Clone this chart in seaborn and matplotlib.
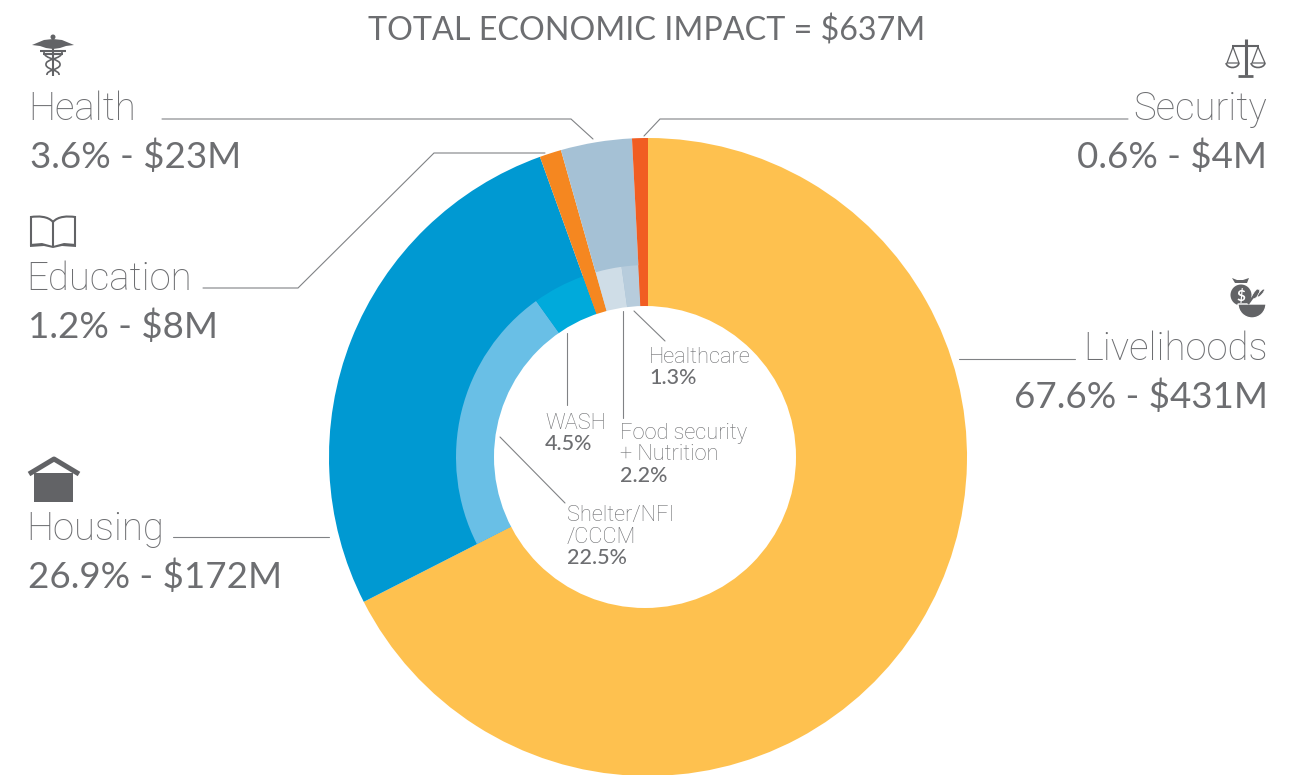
import matplotlib.pyplot as plt
import matplotlib.patches as mpatches
from matplotlib.path import Path
import seaborn as sns

sns.set_theme(style="white")
plt.rcParams['font.family'] = ['Lato', 'DejaVu Sans']

# outer ring: sectors, share of the arc (%)
sectors = ["Livelihoods", "Housing", "Education", "Health", "Security"]
sector_share = [67.5, 27.0, 1.1, 3.6, 0.8]
sector_colors = ["#fec14f", "#0099d2", "#f58720", "#a5c1d5", "#f15d22"]

# inner ring: same order, housing and health are split up
subsectors = ["Livelihoods", "Shelter/NFI/CCCM", "WASH", "Education",
              "Food security + Nutrition", "Healthcare", "Security"]
subsector_share = [67.5, 22.6, 4.4, 1.1, 2.2, 1.4, 0.8]
subsector_colors = ["#fec14f", "#69bfe6", "#00aadb", "#f58720",
                    "#cfdde7", "#b7ccdc", "#f15d22"]

title = "TOTAL ECONOMIC IMPACT = $637M"
GREY = "#6d6e71"
ICON = "#626366"
LINE = "#808285"

# big labels: name, amount, x, name baseline, alignment
big_names = ["Health", "Education", "Housing", "Security", "Livelihoods"]
big_amounts = ["3.6% - $23M", "1.2% - $8M", "26.9% - $172M", "0.6% - $4M", "67.6% - $431M"]
big_x = [30, 28, 28, 1267, 1268]
big_y = [120, 290, 540, 120, 360]
big_ha = ["left", "left", "left", "right", "right"]

# small labels inside the hole
small_names = ["Healthcare", "WASH", "Food security\n+ Nutrition", "Shelter/NFI\n/CCCM"]
small_pcts = ["1.3%", "4.5%", "2.2%", "22.5%"]
small_x = [649, 545, 620, 567]
small_y = [363, 429, 439, 521]

leaders = [
    [(162, 119), (571, 119), (593, 139)],
    [(203, 288), (298, 288), (434, 153), (545, 153)],
    [(1128, 119), (660, 119), (644, 136)],
    [(959, 359), (1075, 359)],
    [(173, 537), (329, 537)],
    [(567, 333), (567, 405)],
    [(623, 311), (623, 418)],
    [(634, 311), (665, 341)],
    [(500, 437), (565, 503)],
]

CX, CY = 648, 457
R_OUT, R_MID = 319, 192
HOLE_X, HOLE_R = 645, 151

fig = plt.figure(figsize=(13.03, 7.75), dpi=100)
ax = fig.add_axes([0, 0, 1, 1])

# y axis runs downward here, so counterclock=True reads clockwise on screen
# both rings go past the hole, the white circle on top cuts it out
ax.pie(sector_share, colors=sector_colors, startangle=-90, counterclock=True,
       radius=R_OUT, center=(CX, CY), wedgeprops=dict(width=R_OUT - 120, linewidth=0))
ax.pie(subsector_share, colors=subsector_colors, startangle=-90, counterclock=True,
       radius=R_MID, center=(CX, CY), wedgeprops=dict(width=R_MID - 120, linewidth=0))
ax.add_patch(mpatches.Circle((HOLE_X, CY), HOLE_R, fc='white', ec='none', zorder=1.5))

ax.set_xlim(0, 1303)
ax.set_ylim(775, 0)
ax.set_aspect('auto')
ax.axis('off')

for pts in leaders:
    ax.plot([p[0] for p in pts], [p[1] for p in pts], color=LINE, lw=0.8,
            solid_joinstyle='miter', zorder=2)

ax.text(647, 40, title, ha='center', va='baseline', fontsize=23.2, color=GREY)

for i in range(len(big_names)):
    name_x = big_x[i] - 1.5 if big_ha[i] == "left" else big_x[i]
    ax.text(name_x, big_y[i], big_names[i], ha=big_ha[i], va='baseline', family='Roboto',
            fontsize=27.6, color=GREY, fontweight='light')
    ax.text(big_x[i], big_y[i] + 48, big_amounts[i], ha=big_ha[i], va='baseline',
            fontsize=26.5, color=GREY)

for i in range(len(small_names)):
    lines = small_names[i].split("\n")
    for j, t in enumerate(lines):
        ax.text(small_x[i], small_y[i] + 21.5 * j, t, va='baseline', family='Roboto', fontsize=15.7,
                color=GREY, fontweight='light')
    ax.text(small_x[i], small_y[i] + 21.5 * len(lines), small_pcts[i], va='baseline',
            fontsize=15.5, color=GREY, fontweight='medium')


def poly(pts, fc=ICON, ec='none', lw=0):
    ax.add_patch(mpatches.Polygon(pts, closed=True, fc=fc, ec=ec, lw=lw))


def stroke(pts, lw=1.5, color=ICON):
    ax.plot([p[0] for p in pts], [p[1] for p in pts], color=color, lw=lw, solid_capstyle='butt')


def curve(verts, lw=1.5):
    codes = [Path.MOVETO] + [Path.CURVE4] * (len(verts) - 1)
    ax.add_patch(mpatches.PathPatch(Path(verts, codes), fc='none', ec=ICON, lw=lw))


# caduceus (health)
poly([(32, 45), (44, 40), (53, 39), (62, 40), (74, 45), (66, 46), (60, 48), (53, 49), (46, 48), (40, 46)])
ax.add_patch(mpatches.Circle((53, 37), 2.5, fc=ICON, ec='none'))
stroke([(53, 38), (53, 76)], lw=1.5)
stroke([(40, 51), (66, 51)], lw=1.5)
stroke([(43, 54), (63, 54)], lw=1.5)
curve([(62, 52), (62, 60), (45, 58), (46, 65), (47, 70), (60, 70), (59, 75)], lw=1.2)
curve([(44, 52), (44, 60), (61, 58), (60, 65), (59, 70), (46, 70), (47, 75)], lw=1.2)

# book (education)
curve([(53, 222), (48, 216), (38, 216), (31, 217)], lw=1.5)
curve([(53, 222), (58, 216), (68, 216), (75, 217)], lw=1.5)
stroke([(31, 216), (31, 246)], lw=1.5)
stroke([(75, 216), (75, 246)], lw=1.5)
stroke([(53, 222), (53, 246)], lw=1.5)
poly([(30, 247), (30, 244), (42, 243), (53, 246), (64, 243), (76, 244), (76, 247), (62, 246), (53, 248), (44, 246)])

# house (housing)
poly([(34, 473), (73, 473), (73, 502), (34, 502)])
stroke([(29, 474), (54, 459), (79, 474)], lw=3.6)

# scales (security)
stroke([(1245.5, 39), (1245.5, 75)], lw=2.2)
stroke([(1232, 46), (1259, 46)], lw=1.5)
stroke([(1238, 75.5), (1253, 75.5)], lw=2)
stroke([(1233, 47), (1227, 63), (1239, 63), (1233, 47)], lw=0.9)
stroke([(1258, 47), (1252, 63), (1265, 63), (1258, 47)], lw=0.9)
curve([(1226, 63), (1227, 69), (1238, 69), (1239, 63)], lw=1.2)
curve([(1251, 63), (1252, 69), (1264, 69), (1265, 63)], lw=1.2)

# money bag and bowl (livelihoods)
poly([(1232, 278), (1237, 280), (1243, 280), (1249, 278), (1247, 283), (1235, 283)])
ax.add_patch(mpatches.Ellipse((1241, 295), 21, 21, fc=ICON, ec='none'))
ax.text(1240.5, 301, "$", ha='center', va='baseline', fontsize=11, color='white', fontweight='bold')
stroke([(1248, 304), (1258, 290)], lw=1.6)
ax.add_patch(mpatches.Ellipse((1256, 294), 5, 11, angle=35, fc=ICON, ec='white', lw=0.5))
ax.add_patch(mpatches.Ellipse((1261, 293), 3, 10, angle=40, fc=ICON, ec='white', lw=0.5))
ax.add_patch(mpatches.Wedge((1252, 304), 14, 0, 180, fc=ICON, ec='white', lw=1))

plt.savefig("out.png", dpi=100)
